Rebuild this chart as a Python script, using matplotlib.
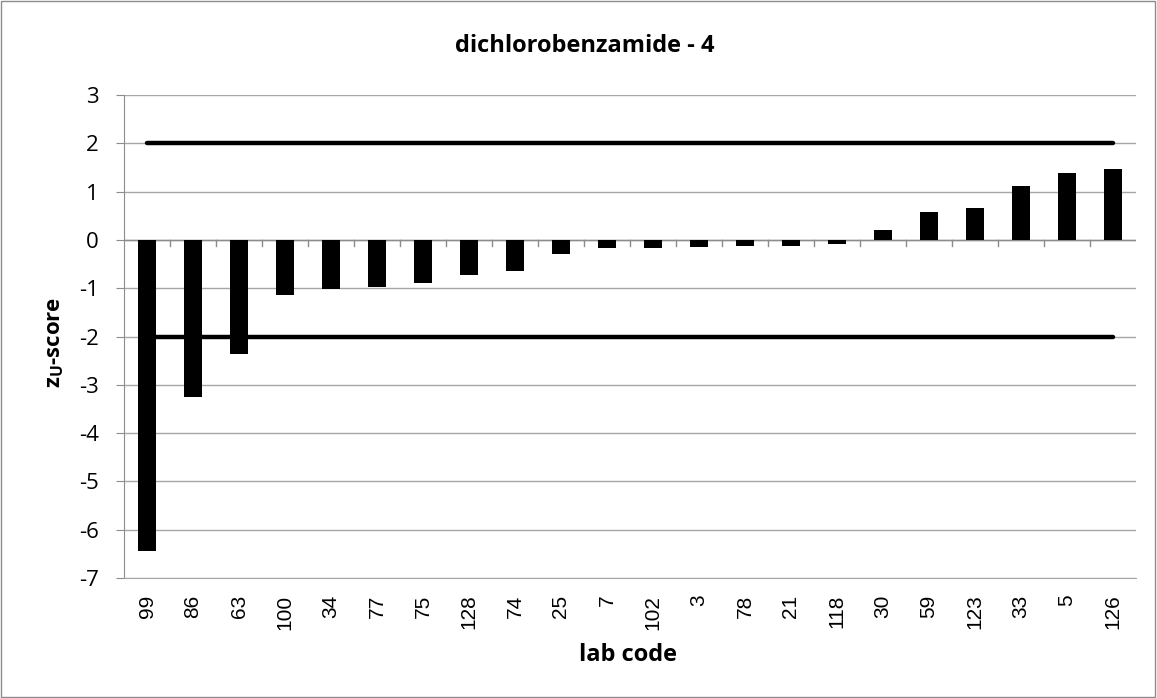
import matplotlib.pyplot as plt
import numpy as np

plt.rcParams['axes.unicode_minus'] = False

# codigos dos laboratorios e z-scores
lab_codes = ['99', '86', '63', '100', '34', '77', '75', '128', '74', '25', '7',
             '102', '3', '78', '21', '118', '30', '59', '123', '33', '5', '126']
z_scores = [-6.45, -3.25, -2.37, -1.14, -1.01, -0.98, -0.89, -0.72, -0.65, -0.30, -0.16,
            -0.16, -0.14, -0.13, -0.12, -0.09, 0.20, 0.57, 0.67, 1.12, 1.39, 1.46]
limite_sup = 2
limite_inf = -2

fig = plt.figure(figsize=(11.57, 6.98), dpi=100)
ax = fig.add_axes([0.1072, 0.1719, 0.8746, 0.692])

pos = np.arange(len(lab_codes))
ax.bar(pos, z_scores, width=0.39, color='black', zorder=3)

# linhas de limite
ax.plot([pos[0], pos[-1]], [limite_sup, limite_sup], color='black', lw=3.2,
        solid_capstyle='round', zorder=4)
ax.plot([pos[0], pos[-1]], [limite_inf, limite_inf], color='black', lw=3.2,
        solid_capstyle='round', zorder=4)

ax.set_xlim(-0.5, len(lab_codes) - 0.5)
ax.set_ylim(-7, 3)
ax.set_yticks(range(-7, 4))
ax.yaxis.grid(True, color='#a6a6a6', lw=1, zorder=0)

for s in ['top', 'right']:
    ax.spines[s].set_visible(False)
ax.spines['left'].set_color('#8c8c8c')
ax.spines['bottom'].set_color('#a6a6a6')

# eixo x no zero com marcas entre categorias
ax.axhline(0, color='#8c8c8c', lw=1, zorder=2)
for x in np.arange(0.5, len(lab_codes) - 0.5, 1):
    ax.plot([x, x], [0, -0.12], color='#8c8c8c', lw=1, zorder=2)

ax.set_xticks(pos)
ax.set_xticklabels(lab_codes, rotation=90, family='Liberation Sans', fontsize=15)
ax.tick_params(axis='x', length=0, pad=12)
ax.tick_params(axis='y', length=6, color='#8c8c8c', pad=12)
for t in ax.get_yticklabels():
    t.set_family('Open Sans')
    t.set_fontsize(16)

fig.text(0.505, 0.934, 'dichlorobenzamide - 4', ha='center', va='center',
         family='Open Sans', fontsize=17, fontweight='bold')
fig.text(0.543, 0.062, 'lab code', ha='center', va='center',
         family='Open Sans', fontsize=17, fontweight='bold')
fig.text(0.048, 0.51, r'z$_\mathregular{U}$-score', ha='center', va='center', rotation=90,
         family='Open Sans', fontsize=16, fontweight='bold')

# borda do grafico
fig.add_artist(plt.Rectangle((0.001, 0.002), 0.997, 0.996, transform=fig.transFigure,
                             fill=False, edgecolor='#8c8c8c', lw=1))

plt.savefig('out.png', dpi=100)
